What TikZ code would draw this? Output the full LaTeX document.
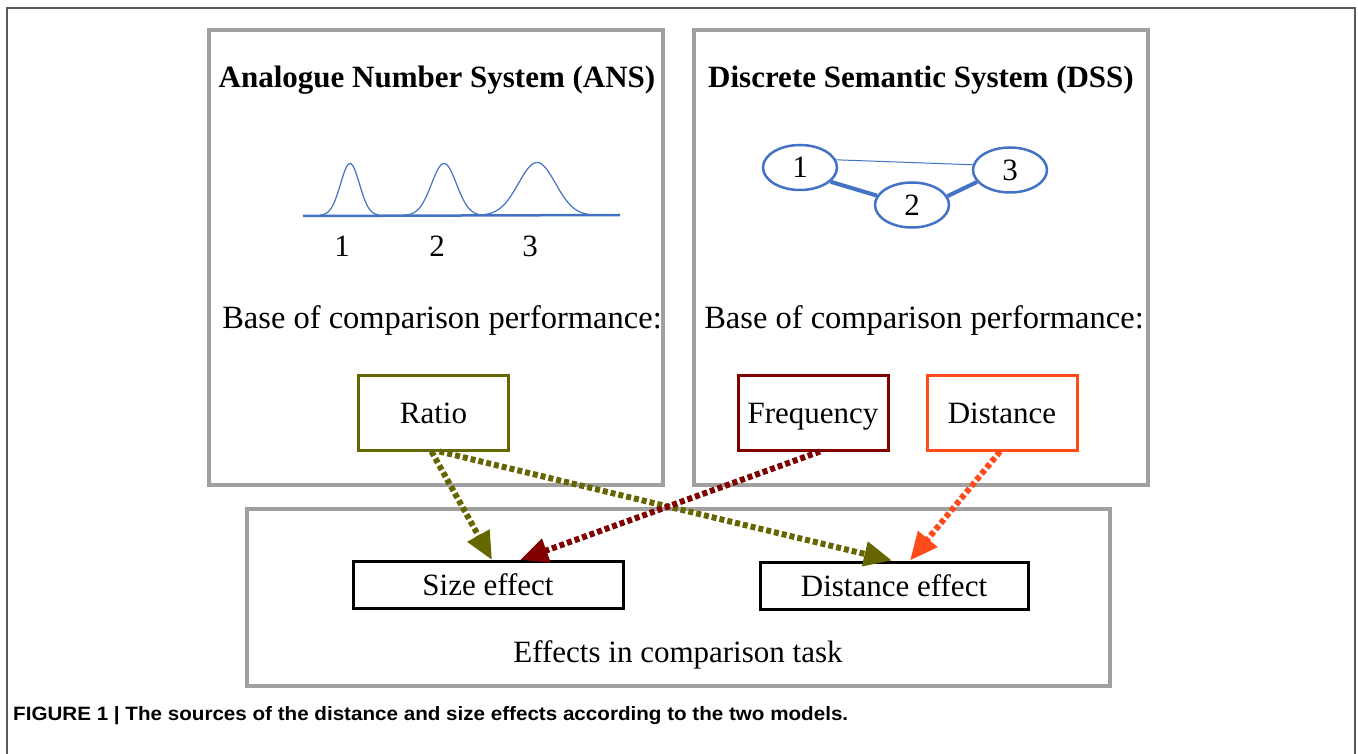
\documentclass[tikz,border=0pt]{standalone}
\usepackage{fontspec}
\usepackage{graphicx}
\setmainfont{Liberation Serif}
\newfontfamily\capfont{Liberation Sans}
\usetikzlibrary{arrows.meta,shapes.geometric}
\definecolor{olivec}{RGB}{102,102,0}
\definecolor{darkredc}{RGB}{128,0,0}
\definecolor{orangec}{RGB}{255,75,25}
\definecolor{boxgray}{RGB}{160,160,160}
\definecolor{framegray}{RGB}{90,90,90}
\definecolor{netblue}{RGB}{68,114,196}
\begin{document}
\begin{tikzpicture}[x=1pt,y=-1pt,
  bigfont/.style={font=\fontsize{31}{37}\selectfont},
  txt/.style={bigfont, inner sep=0pt},
  basetxt/.style={font=\fontsize{32.5}{38}\selectfont, inner sep=0pt},
  panel/.style={draw=boxgray, line width=4pt, inner sep=0pt},
  srcbox/.style={draw=#1, line width=3pt, minimum width=150pt, minimum height=75pt, inner sep=0pt, bigfont, text height=21pt, text depth=0pt},
  effbox/.style={draw=black, line width=3pt, minimum height=47pt, inner sep=0pt, bigfont, text height=21pt, text depth=0pt},
  numnode/.style={ellipse, draw=netblue, line width=2.5pt, minimum width=74pt, minimum height=45pt, inner sep=0pt, bigfont},
  flow/.style={draw=#1, line width=6pt, dash pattern=on 5pt off 3pt, -{Triangle[length=28pt,width=24pt,fill=#1]}},
  bump/.style={draw=netblue, line width=1.2pt},
]
\useasboundingbox (0,0) rectangle (1358,754);
\fill[white] (0,0) rectangle (1358,754);
% outer frame (open at bottom)
\draw[framegray, line width=1.5pt] (7,754) -- (7,8) -- (1355,8) -- (1355,754);

% panels
\node[panel, minimum width=454pt, minimum height=455pt] (ans) at (436,257.5) {};
\node[panel, minimum width=454pt, minimum height=455pt] (dss) at (921,257.5) {};
\node[panel, minimum width=863pt, minimum height=177pt] (eff) at (678.5,597) {};

% titles
\node[txt, anchor=base, font=\fontsize{31}{37}\selectfont\bfseries] (anstitle) at (437,88) {Analogue Number System (ANS)};
\node[txt, anchor=base, font=\fontsize{31}{37}\selectfont\bfseries] (dsstitle) at (921,88) {Discrete Semantic System (DSS)};

% ANS curves
\draw[netblue, line width=2.5pt] (303,216) -- (620,215);
\draw[bump] plot[domain=-30:30, samples=61] ({350+\x}, {215.5-52*exp(-(\x*\x)/180)});
\draw[bump] plot[domain=-40:40, samples=81] ({444+\x}, {215.5-52*exp(-(\x*\x)/312)});
\draw[bump] plot[domain=-58:58, samples=117] ({537+\x}, {215.5-53*exp(-(\x*\x)/684)});
\node[txt, anchor=base] (a1) at (342,257) {1};
\node[txt, anchor=base] (a2) at (437,257) {2};
\node[txt, anchor=base] (a3) at (530,257) {3};

% DSS network
\node[numnode] (n1) at (800,167.5) {1};
\node[numnode] (n2) at (912,205) {2};
\node[numnode] (n3) at (1010,170) {3};
\draw[netblue, line width=1pt] (n1.12) -- (n3.172);
\draw[netblue, line width=4pt] (n1.-25) -- (n2.165);
\draw[netblue, line width=4pt] (n2.14) -- (n3.-160);

% base labels
\node[basetxt, anchor=base] (ansbase) at (442,328) {Base of comparison performance:};
\node[basetxt, anchor=base] (dssbase) at (924,328) {Base of comparison performance:};

% source boxes
\node[srcbox=olivec] (ratio) at (433.5,412.5) {Ratio};
\node[srcbox=darkredc] (freq) at (813,412.5) {Frequency};
\node[srcbox=orangec] (dist) at (1002,412.5) {Distance};

% effect boxes
\node[effbox, minimum width=270pt] (size) at (488,585) {Size effect};
\node[effbox, minimum width=268pt] (deff) at (894,585.5) {Distance effect};
\node[txt, anchor=base] (efftitle) at (678,662) {Effects in comparison task};

% connectors
\draw[flow=olivec] ([xshift=-2pt]ratio.south) -- ([xshift=4pt]size.north);
\draw[flow=olivec] ([xshift=6pt]ratio.south) -- ([xshift=-2pt]deff.north);
\draw[flow=darkredc] ([xshift=7pt]freq.south) -- ([xshift=32pt]size.north);
\draw[flow=orangec] ([xshift=-2pt]dist.south) -- ([xshift=16pt]deff.north);

% caption
\node[anchor=base west, inner sep=0pt] (caption) at (13,720) {\resizebox{835pt}{14pt}{\capfont\bfseries\fontsize{20}{22}\selectfont FIGURE 1 | The sources of the distance and size effects according to the two models.}};
\end{tikzpicture}
\end{document}
